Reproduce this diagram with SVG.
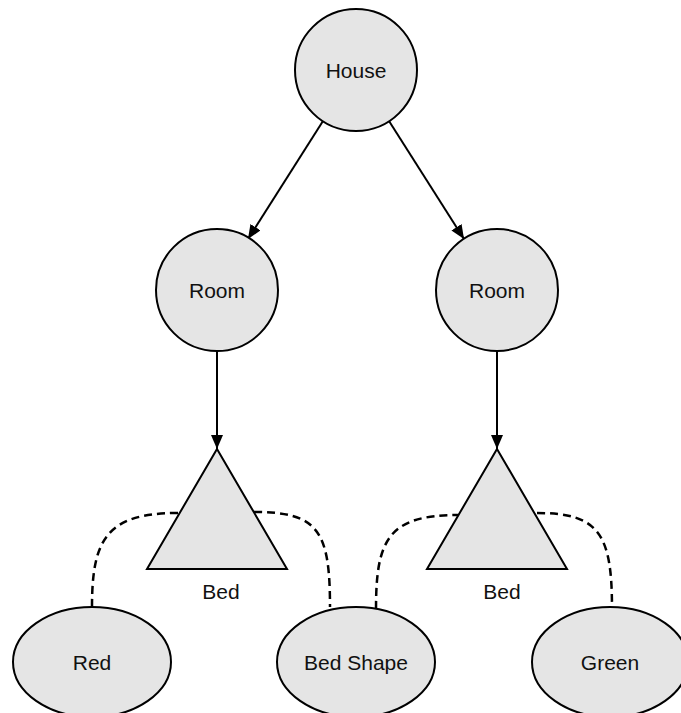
<svg xmlns="http://www.w3.org/2000/svg" width="681" height="713" viewBox="0 0 681 713">
<defs>
<style>
.n{fill:#e5e5e5;stroke:#000;stroke-width:2}
.t{font-family:"Liberation Sans",Arial,sans-serif;font-size:21px;fill:#111;text-anchor:middle;dominant-baseline:central}
.e{fill:none;stroke:#000;stroke-width:2}
.d{fill:none;stroke:#000;stroke-width:2.5;stroke-dasharray:8 5}
</style>
<marker id="ah" viewBox="0 0 14 12" refX="14" refY="6" markerWidth="14" markerHeight="12" markerUnits="userSpaceOnUse" orient="auto">
<path d="M0,0 L14,6 L0,12 Z" fill="#000"/>
</marker>
</defs>
<rect width="681" height="713" fill="#fff"/>
<g id="connectors">
<line class="e" x1="323" y1="121" x2="248" y2="239" marker-end="url(#ah)"/>
<line class="e" x1="389" y1="121" x2="464" y2="239" marker-end="url(#ah)"/>
<line class="e" x1="217" y1="351" x2="217" y2="449" marker-end="url(#ah)"/>
<line class="e" x1="497" y1="351" x2="497" y2="449" marker-end="url(#ah)"/>
<path class="d" d="M92,607 C92,540 106,513 178,513"/>
<path class="d" d="M254,512 C318,512 330,530 330,607"/>
<path class="d" d="M376,609 C376,540 388,515 458,515"/>
<path class="d" d="M537,513 C600,513 612,535 612,609"/>
</g>
<g id="house"><circle class="n" cx="356" cy="70" r="61"/><text class="t" x="356" y="70">House</text></g>
<g id="room1"><circle class="n" cx="217" cy="290" r="61"/><text class="t" x="217" y="290">Room</text></g>
<g id="room2"><circle class="n" cx="497" cy="290" r="61"/><text class="t" x="497" y="290">Room</text></g>
<g id="bed1"><polygon class="n" points="217,449 287,569 147,569"/><text class="t" x="221" y="591">Bed</text></g>
<g id="bed2"><polygon class="n" points="497,449 567,569 427,569"/><text class="t" x="502" y="591">Bed</text></g>
<g id="red"><ellipse class="n" cx="92" cy="662" rx="79" ry="55"/><text class="t" x="92" y="662">Red</text></g>
<g id="bedshape"><ellipse class="n" cx="356" cy="662" rx="79" ry="55"/><text class="t" x="356" y="662">Bed Shape</text></g>
<g id="green"><ellipse class="n" cx="610" cy="662" rx="78" ry="55"/><text class="t" x="610" y="662">Green</text></g>
</svg>
